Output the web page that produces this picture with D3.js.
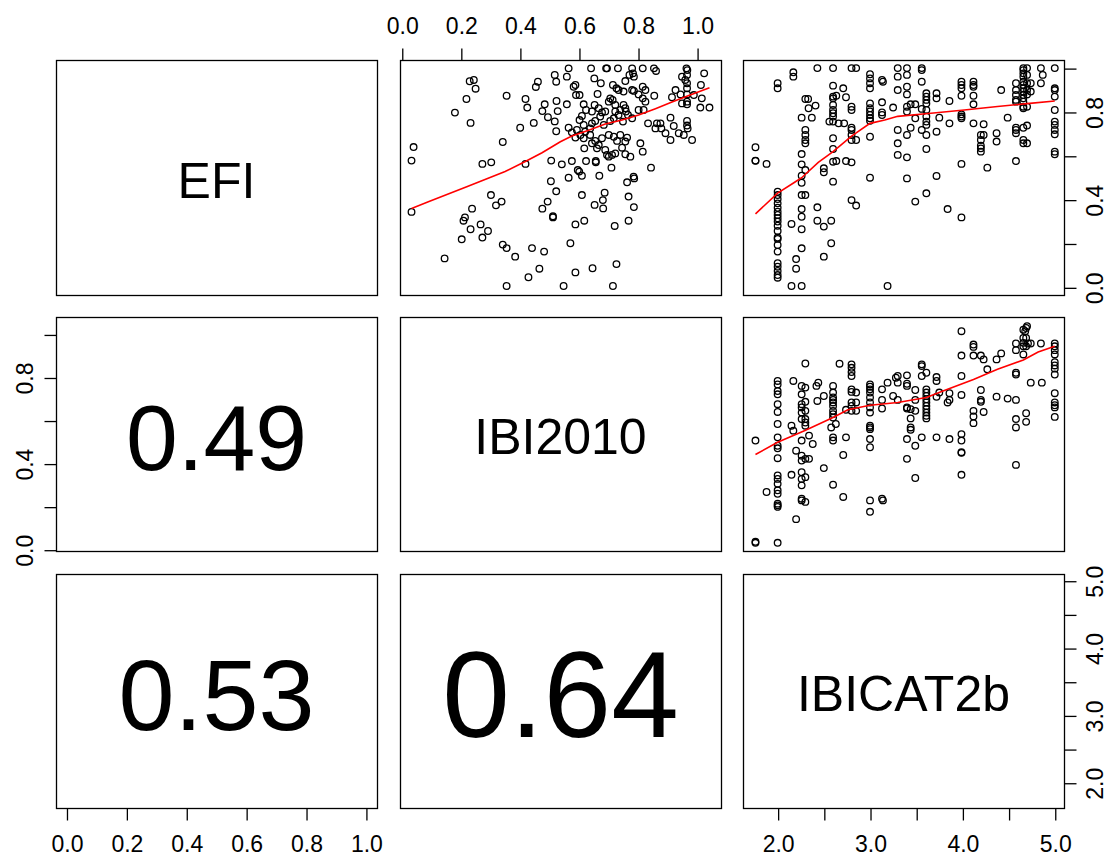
<!DOCTYPE html>
<html>
<head>
<meta charset="utf-8">
<script src="https://cdn.jsdelivr.net/npm/d3@7"></script>
<style>
  html, body { margin: 0; padding: 0; background: #fff; }
  svg { display: block; }
  text { font-family: "Liberation Sans", Arial, Helvetica, sans-serif; fill: #000; }
</style>
</head>
<body>
<svg id="chart" width="1108" height="856"></svg>
<script>
// Scatterplot matrix of three stream-condition indices.
const variables = ["EFI", "IBI2010", "IBICAT2b"];

// Pearson correlations shown in the lower panels: EFI~IBI2010, EFI~IBICAT2b, IBI2010~IBICAT2b
const correlations = [0.49, 0.53, 0.64];

// Axis ticks and which of them carry a label
const unitTicks = [0, 0.2, 0.4, 0.6, 0.8, 1.0];
const unitLabelsAll = [0, 0.2, 0.4, 0.6, 0.8, 1.0];
const unitLabelsSparse = [0, 0.4, 0.8];
const catTicks = [2, 2.5, 3, 3.5, 4, 4.5, 5];
const catLabels = [2, 3, 4, 5];

// EFI (y) against IBI2010 (x)
const ibiEfiPoints = [
  [0.23,0.94],[0.244,0.946],[0.25,0.906],[0.355,0.874],[0.219,0.859],[0.18,0.797],[0.233,0.75],
  [0.461,0.938],[0.454,0.914],[0.518,0.969],[0.523,0.938],[0.419,0.859],[0.425,0.82],[0.484,0.835],
  [0.476,0.804],[0.495,0.776],[0.518,0.757],[0.528,0.804],[0.524,0.85],[0.447,0.75],[0.401,0.728],
  [0.523,0.712],[0.04,0.64],[0.033,0.578],[0.342,0.663],[0.273,0.563],[0.303,0.57],[0.419,0.563],
  [0.506,0.578],[0.505,0.484],[0.523,0.438],[0.033,0.344],[0.302,0.421],[0.319,0.374],[0.338,0.391],
  [0.494,0.391],[0.476,0.359],[0.512,0.324],[0.512,0.319],[0.238,0.359],[0.214,0.319],[0.209,0.304],
  [0.233,0.265],[0.267,0.287],[0.292,0.257],[0.273,0.227],[0.203,0.219],[0.145,0.132],[0.342,0.195],
  [0.355,0.179],[0.384,0.14],[0.441,0.179],[0.482,0.163],[0.466,0.085],[0.429,0.046],[0.355,0.006],
  [0.565,0.999],[0.641,0.999],[0.692,0.999],[0.695,0.999],[0.732,0.999],[0.78,0.999],[0.816,0.999],
  [0.854,0.999],[0.861,0.987],[0.964,0.999],[0.967,0.991],[1.024,0.976],[0.559,0.961],[0.652,0.953],
  [0.674,0.931],[0.757,0.941],[0.771,0.969],[0.783,0.976],[0.786,0.961],[0.582,0.915],[0.588,0.923],
  [0.59,0.877],[0.602,0.877],[0.663,0.882],[0.715,0.923],[0.727,0.908],[0.734,0.9],[0.751,0.893],
  [0.78,0.9],[0.786,0.896],[0.802,0.88],[0.816,0.915],[0.825,0.9],[0.855,0.874],[0.927,0.9],
  [0.915,0.867],[0.944,0.88],[0.949,0.961],[0.96,0.946],[0.966,0.969],[0.966,0.931],[0.966,0.908],
  [0.966,0.88],[0.966,0.847],[0.966,0.835],[0.989,0.877],[1.013,0.923],[1.016,0.862],[1.042,0.82],
  [1.011,0.82],[0.949,0.839],[0.559,0.835],[0.616,0.835],[0.624,0.809],[0.61,0.782],[0.602,0.763],
  [0.644,0.802],[0.653,0.832],[0.667,0.817],[0.678,0.798],[0.672,0.779],[0.689,0.802],[0.701,0.847],
  [0.706,0.862],[0.714,0.855],[0.723,0.832],[0.723,0.802],[0.718,0.771],[0.734,0.786],[0.74,0.809],
  [0.751,0.832],[0.757,0.817],[0.759,0.802],[0.766,0.786],[0.749,0.756],[0.78,0.771],[0.706,0.759],
  [0.684,0.741],[0.655,0.759],[0.644,0.748],[0.638,0.725],[0.621,0.71],[0.605,0.695],[0.593,0.718],
  [0.565,0.728],[0.616,0.741],[0.802,0.809],[0.819,0.809],[0.825,0.847],[0.816,0.862],[0.834,0.748],
  [0.859,0.725],[0.864,0.748],[0.876,0.748],[0.879,0.725],[0.893,0.703],[0.91,0.774],[0.921,0.736],
  [0.938,0.703],[0.955,0.695],[0.966,0.759],[0.966,0.738],[0.968,0.725],[0.983,0.672],[0.91,0.672],
  [0.576,0.707],[0.588,0.683],[0.616,0.68],[0.638,0.695],[0.655,0.668],[0.644,0.657],[0.667,0.649],
  [0.678,0.68],[0.701,0.695],[0.718,0.687],[0.729,0.668],[0.74,0.695],[0.763,0.683],[0.757,0.665],
  [0.746,0.637],[0.723,0.611],[0.712,0.604],[0.689,0.627],[0.695,0.604],[0.701,0.596],[0.661,0.634],
  [0.757,0.607],[0.774,0.596],[0.808,0.657],[0.816,0.619],[0.618,0.634],[0.542,0.561],[0.576,0.576],
  [0.596,0.535],[0.601,0.528],[0.61,0.509],[0.565,0.5],[0.624,0.576],[0.657,0.576],[0.657,0.57],
  [0.669,0.509],[0.71,0.546],[0.763,0.479],[0.785,0.505],[0.787,0.497],[0.844,0.546],[0.61,0.421],
  [0.687,0.432],[0.681,0.398],[0.653,0.376],[0.682,0.36],[0.768,0.414],[0.786,0.366],[0.588,0.287],
  [0.618,0.304],[0.721,0.28],[0.768,0.304],[0.571,0.201],[0.588,0.068],[0.646,0.087],[0.727,0.106],
  [0.548,0.006],[0.715,0.006]
];
const ibiEfiSmooth = [
  [0.033,0.36],[0.09,0.39],[0.22,0.459],[0.35,0.528],[0.42,0.575],[0.475,0.614],[0.537,0.664],
  [0.576,0.69],[0.633,0.716],[0.689,0.745],[0.746,0.763],[0.802,0.786],[0.859,0.815],[0.915,0.845],
  [0.972,0.875],[1.042,0.91]
];

// EFI (y) against IBICAT2b (x), grouped by IBICAT2b value
const catEfiColumns = [
  [1.76,[0.639,0.578,0.577]],[1.88,[0.563]],
  [2.0,[0.931,0.908,0.436,0.421,0.403,0.383,0.363,0.345,0.33,0.315,0.3,0.281,0.257,0.227,0.221,0.193,0.163,0.11,0.094,0.075,0.056,0.044]],
  [2.17,[0.981,0.961]],[2.15,[0.289,0.006]],[2.2,[0.129,0.085]],
  [2.26,[0.774,0.608,0.561,0.509,0.477,0.421,0.357,0.322,0.265,0.178,0.006]],
  [2.3,[0.859,0.718,0.695,0.672,0.657,0.535,0.421]],
  [2.33,[0.859]],[2.335,[0.817]],[2.37,[0.774]],[2.41,[0.829]],
  [2.43,[1.0,0.365,0.304]],[2.5,[0.543,0.525,0.277,0.14]],[2.58,[0.304,0.201]],
  [2.6,[1.0,0.92,0.87,0.862,0.832,0.809,0.794,0.779,0.756,0.68,0.631,0.573,0.482]],
  [2.56,[0.756]],[2.635,[0.874,0.576]],[2.66,[0.748]],[2.72,[0.748]],[2.71,[0.908]],[2.74,[0.867,0.576]],
  [2.8,[1.0,0.824,0.809,0.728,0.718,0.695,0.672,0.57,0.398]],[2.85,[1.0,0.672,0.373]],
  [3.0,[0.972,0.953,0.931,0.908,0.839,0.817,0.802,0.786,0.771,0.76,0.687,0.5]],
  [3.13,[0.946,0.844,0.798,0.786]],[3.14,[0.938]],[3.25,[0.82]],[3.19,[0.006]],
  [3.3,[1.0,0.961,0.9,0.718,0.657,0.604]],
  [3.4,[1.0,0.969,0.915,0.88,0.824,0.802,0.695,0.593,0.497]],
  [3.44,[0.835,0.728]],[3.49,[0.835,0.771,0.391]],
  [3.56,[1.0,0.991,0.938,0.814,0.718]],
  [3.61,[0.885,0.87,0.855,0.839,0.809,0.779,0.756,0.741,0.695,0.631,0.429]],
  [3.72,[0.885,0.862,0.71,0.508]],[3.75,[0.774]],[3.86,[0.85,0.748]],[3.84,[0.357]],
  [3.99,[0.938,0.923,0.908,0.874,0.789,0.779,0.771,0.563,0.319]],
  [4.12,[0.938,0.923,0.915,0.874,0.835,0.748]],
  [4.2,[0.695,0.672,0.646,0.634,0.619]],[4.23,[0.744,0.695]],[4.27,[0.546]],
  [4.37,[0.703,0.665]],[4.42,[0.9]],[4.49,[0.774]],
  [4.58,[0.931,0.9,0.877,0.855,0.847,0.728,0.718,0.703,0.576]],
  [4.66,[1.0,0.991,0.976,0.961,0.938,0.923,0.908,0.893,0.877,0.862,0.847,0.824,0.817,0.728,0.672,0.657]],
  [4.7,[1.0,0.969,0.931,0.9,0.88,0.824,0.738,0.657]],
  [4.74,[0.931,0.893]],[4.85,[1.0,0.931]],[4.87,[0.969]],
  [5.0,[1.0,0.908,0.9,0.87,0.809,0.756,0.741,0.718,0.698,0.619,0.607]]
];
const catEfiSmooth = [
  [1.76,0.335],[2.0,0.43],[2.18,0.478],[2.26,0.5],[2.44,0.57],[2.6,0.619],[2.8,0.69],[3.0,0.748],
  [3.16,0.763],[3.3,0.78],[3.66,0.794],[4.02,0.809],[4.38,0.825],[4.7,0.838],[5.0,0.85]
];

// IBI2010 (y) against IBICAT2b (x), grouped by IBICAT2b value
const catIbiColumns = [
  [1.76,[0.507,0.037,0.032]],[1.88,[0.268]],
  [2.0,[0.784,0.768,0.737,0.722,0.676,0.64,0.584,0.522,0.483,0.471,0.425,0.345,0.329,0.306,0.276,0.26,0.214,0.206,0.199,0.032]],
  [2.17,[0.784,0.553]],[2.15,[0.576,0.348]],[2.2,[0.46,0.142]],
  [2.26,[0.761,0.722,0.676,0.661,0.637,0.607,0.507,0.437,0.414,0.36,0.329,0.299,0.237,0.229]],
  [2.3,[0.865,0.753,0.687,0.645,0.607,0.591,0.576,0.422,0.337,0.222]],
  [2.34,[0.53,0.422]],[2.38,[0.491]],[2.42,[0.761]],[2.44,[0.776]],[2.43,[0.691]],[2.5,[0.714,0.379]],
  [2.6,[0.761,0.73,0.707,0.696,0.684,0.668,0.645,0.63,0.614,0.522,0.507,0.302]],
  [2.58,[0.568]],[2.63,[0.584]],[2.67,[0.864]],[2.71,[0.44,0.245]],[2.74,[0.522,0.65]],
  [2.8,[0.861,0.845,0.825,0.807,0.745,0.733,0.684,0.668,0.645]],[2.85,[0.73,0.684,0.645]],
  [3.0,[0.768,0.757,0.745,0.73,0.707,0.684,0.661,0.637,0.576,0.568,0.56,0.514,0.476,0.229,0.176]],
  [3.13,[0.745,0.696,0.656,0.237]],[3.14,[0.229]],[3.19,[0.776]],[3.25,[0.714]],[3.28,[0.799]],
  [3.3,[0.807,0.776,0.696]],
  [3.4,[0.81,0.771,0.761,0.661,0.656,0.514,0.422]],
  [3.44,[0.653,0.61,0.568,0.557]],[3.49,[0.742,0.696,0.645,0.483,0.333]],
  [3.56,[0.861,0.853,0.807,0.522]],
  [3.61,[0.822,0.745,0.73,0.714,0.699,0.684,0.668,0.653,0.637,0.622,0.61]],
  [3.72,[0.802,0.784,0.71,0.522]],[3.75,[0.73]],[3.84,[0.684]],[3.86,[0.727,0.696,0.514]],
  [3.99,[1.015,0.902,0.807,0.719,0.537,0.507,0.453,0.45,0.348]],
  [4.12,[0.953,0.942,0.902,0.645,0.619,0.588]],
  [4.2,[0.902,0.742,0.696,0.687]],[4.23,[0.884,0.64]],[4.27,[0.838]],
  [4.37,[0.884,0.711]],[4.42,[0.912]],[4.49,[0.702]],
  [4.58,[0.958,0.927,0.822,0.814,0.696,0.607,0.568,0.394]],
  [4.66,[1.022,0.984,0.961,0.945,0.907]],[4.68,[1.015]],[4.69,[1.03,0.984,0.945,0.634,0.594]],
  [4.7,[1.038]],[4.71,[0.958]],[4.74,[0.958,0.776]],[4.85,[0.958]],[4.86,[0.776]],
  [5.0,[0.958,0.945,0.927,0.907,0.871,0.856,0.841,0.814,0.727,0.684,0.671,0.661,0.617]]
];
const catIbiSmooth = [
  [1.76,0.442],[2.0,0.499],[2.29,0.553],[2.6,0.614],[2.76,0.65],[3.0,0.671],[3.3,0.684],
  [3.61,0.707],[3.79,0.737],[4.12,0.791],[4.38,0.838],[4.66,0.881],[4.82,0.918],[5.0,0.945]
];

// ---- layout ----
const panelX = [[56, 377], [400, 721], [743, 1064]];
const panelY = [[60, 295], [317, 551], [574, 808]];
const domains = {
  EFI: [-0.035, 1.037],
  IBI2010: [-0.006, 1.081],
  IBICAT2b: [1.625, 5.10]
};
const axisFont = 23;
const labelFont = 50;
const corrScale = 190;

const svg = d3.select("#chart");

const xScale = (v, col) => d3.scaleLinear().domain(domains[v]).range(panelX[col]);
const yScale = (v, row) => d3.scaleLinear().domain(domains[v]).range([panelY[row][1], panelY[row][0]]);

const expand = cols => cols.flatMap(([x, ys]) => ys.map(y => [x, y]));

const scatterPanels = {
  "0-1": { points: ibiEfiPoints, smooth: ibiEfiSmooth },
  "0-2": { points: expand(catEfiColumns), smooth: catEfiSmooth },
  "1-2": { points: expand(catIbiColumns), smooth: catIbiSmooth }
};
const corrPanels = { "1-0": correlations[0], "2-0": correlations[1], "2-1": correlations[2] };

for (let i = 0; i < 3; i++) {
  for (let j = 0; j < 3; j++) {
    const [x0, x1] = panelX[j];
    const [y0, y1] = panelY[i];
    const g = svg.append("g");
    const cx = (x0 + x1) / 2, cy = (y0 + y1) / 2;

    if (i === j) {
      g.append("text")
        .attr("x", cx).attr("y", cy + 3)
        .attr("text-anchor", "middle")
        .attr("dominant-baseline", "central")
        .style("font-size", labelFont + "px")
        .text(variables[i]);
    } else if (i < j) {
      const xs = xScale(variables[j], j);
      const ys = yScale(variables[i], i);
      const panel = scatterPanels[`${i}-${j}`];
      g.append("g").selectAll("circle")
        .data(panel.points)
        .join("circle")
        .attr("cx", d => xs(d[0]))
        .attr("cy", d => ys(d[1]))
        .attr("r", 3.3)
        .attr("fill", "none")
        .attr("stroke", "#000")
        .attr("stroke-width", 1.3);
      g.append("path")
        .datum(panel.smooth)
        .attr("d", d3.line().x(d => xs(d[0])).y(d => ys(d[1])))
        .attr("fill", "none")
        .attr("stroke", "#ff0000")
        .attr("stroke-width", 1.6);
    } else {
      const r = corrPanels[`${i}-${j}`];
      g.append("text")
        .attr("x", cx).attr("y", cy + 4)
        .attr("text-anchor", "middle")
        .attr("dominant-baseline", "central")
        .style("font-size", (corrScale * r) + "px")
        .text(r.toFixed(2));
    }

    g.append("rect")
      .attr("x", x0 + 0.5).attr("y", y0 + 0.5)
      .attr("width", x1 - x0).attr("height", y1 - y0)
      .attr("fill", "none")
      .attr("stroke", "#000")
      .attr("stroke-width", 1.3);
  }
}

// ---- axes ----
const fmt = d3.format(".1f");
function styleAxis(sel) {
  sel.select(".domain").remove();
  sel.selectAll(".tick line").attr("stroke", "#000").attr("stroke-width", 1.3);
  sel.selectAll(".tick text").style("font-size", axisFont + "px")
    .style("font-family", '"Liberation Sans", Arial, sans-serif').attr("fill", "#000");
}
function labeler(shown) {
  return d => shown.some(s => Math.abs(s - d) < 1e-9) ? fmt(d) : "";
}

// horizontal axes
function hAxis(side, v, col, row, ticks, shown) {
  const s = xScale(v, col);
  const y = side === "top" ? panelY[row][0] : panelY[row][1];
  const ax = (side === "top" ? d3.axisTop(s) : d3.axisBottom(s))
    .tickValues(ticks).tickSize(12).tickPadding(15).tickFormat(labeler(shown));
  const g = svg.append("g").attr("transform", `translate(0.5,${y + 0.5})`).call(ax);
  styleAxis(g);
}
// vertical axes: labels run parallel to the axis
function vAxis(side, v, row, col, ticks, shown) {
  const s = yScale(v, row);
  const x = side === "left" ? panelX[col][0] : panelX[col][1];
  const ax = (side === "left" ? d3.axisLeft(s) : d3.axisRight(s))
    .tickValues(ticks).tickSize(12).tickFormat(labeler(shown));
  const g = svg.append("g").attr("transform", `translate(${x + 0.5},0.5)`).call(ax);
  styleAxis(g);
  const off = side === "left" ? -24 : 38;
  g.selectAll(".tick text")
    .attr("x", null).attr("y", null).attr("dy", null)
    .attr("text-anchor", "middle")
    .attr("transform", `translate(${off},0) rotate(-90)`);
}

hAxis("top", "IBI2010", 1, 0, unitTicks, unitLabelsAll);
hAxis("bottom", "EFI", 0, 2, unitTicks, unitLabelsAll);
hAxis("bottom", "IBICAT2b", 2, 2, catTicks, catLabels);
vAxis("right", "EFI", 0, 2, unitTicks, unitLabelsSparse);
vAxis("left", "IBI2010", 1, 0, unitTicks, unitLabelsSparse);
vAxis("right", "IBICAT2b", 2, 2, catTicks, catLabels);
</script>
</body>
</html>
